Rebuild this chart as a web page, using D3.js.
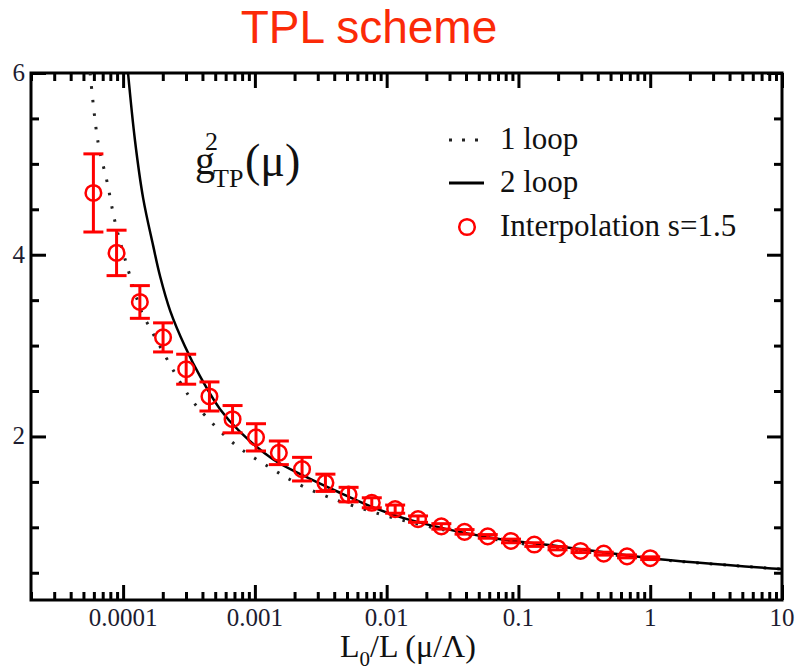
<!DOCTYPE html>
<html>
<head>
<meta charset="utf-8">
<script src="https://cdn.jsdelivr.net/npm/d3@7"></script>
<style>
  body { margin: 0; background: white; }
  text { font-family: "Liberation Serif", "Times New Roman", serif; }
</style>
</head>
<body>
<div id="chart"></div>
<script>
// interpolation points, s = 1.5
var pointX = [0.0000595, 0.0000892, 0.000134, 0.000201, 0.000301, 0.000452, 0.000677, 0.00102,
              0.00152, 0.00228, 0.00343, 0.00514, 0.00771, 0.0116, 0.0173, 0.026,
              0.039, 0.0585, 0.0878, 0.132, 0.198, 0.296, 0.444, 0.667, 1.0];
var pointY = [4.68, 4.02, 3.48, 3.09, 2.74, 2.44, 2.19, 1.99,
              1.82, 1.64, 1.49, 1.36, 1.27, 1.20, 1.09, 1.01,
              0.95, 0.90, 0.85, 0.81, 0.77, 0.74, 0.71, 0.68, 0.66];
var pointErr = [0.43, 0.25, 0.18, 0.16, 0.165, 0.16, 0.15, 0.15,
                0.13, 0.13, 0.095, 0.08, 0.055, 0.045, 0.035, 0.03,
                0.025, 0.02, 0.02, 0.02, 0.018, 0.018, 0.016, 0.016, 0.015];

// 1 loop curve
var loop1X = [0.0000562, 0.0000645, 0.0000756, 0.0000869, 0.0001035, 0.000139, 0.000155, 0.000311,
              0.000419, 0.000708, 0.00126, 0.00232, 0.00576, 0.02, 0.1, 1, 10];
var loop1Y = [6.0, 5.24, 4.80, 4.36, 3.95, 3.36, 3.23, 2.46,
              2.23, 1.91, 1.67, 1.45, 1.23, 1.014, 0.826, 0.654, 0.54];

// 2 loop curve
var loop2X = [0.000109, 0.000123, 0.000142, 0.000169, 0.000191, 0.000228, 0.000295, 0.000384,
              0.000544, 0.000772, 0.00137, 0.00249, 0.00443, 0.00788, 0.0143, 0.0585, 0.207, 1, 10];
var loop2Y = [6.0, 5.26, 4.62, 4.10, 3.76, 3.38, 2.99, 2.66,
              2.30, 2.05, 1.75, 1.55, 1.38, 1.22, 1.09, 0.89, 0.79, 0.66, 0.54];

var xMajor = [0.0001, 0.001, 0.01, 0.1, 1, 10];
var xTickLabels = ["0.0001", "0.001", "0.01", "0.1", "1", "10"];
var yMajor = [2, 4, 6];
var yTickLabels = ["2", "4", "6"];
var yMinor = [0.5, 1, 1.5, 2.5, 3, 3.5, 4.5, 5, 5.5];

var xMinor = [];
[-5, -4, -3, -2, -1, 0].forEach(function (p) {
  for (var m = 2; m <= 9; m++) {
    var v = m * Math.pow(10, p);
    if (v >= 2e-5 && v < 10) xMinor.push(v);
  }
});

var plotL = 31, plotR = 782, plotT = 73, plotB = 600;

var svg = d3.select("#chart").append("svg")
  .attr("width", 799)
  .attr("height", 670);

var x = d3.scaleLog().domain([2e-5, 10]).range([plotL, plotR]);
var y = d3.scaleLinear().domain([0.2, 6]).range([plotB, plotT]);

svg.append("defs").append("clipPath").attr("id", "plot")
  .append("rect")
  .attr("x", plotL).attr("y", plotT)
  .attr("width", plotR - plotL).attr("height", plotB - plotT);

// title
svg.append("text")
  .attr("x", 369).attr("y", 43)
  .attr("text-anchor", "middle")
  .style("font-family", "'Liberation Sans', Arial, sans-serif")
  .style("font-size", "46px")
  .style("fill", "#fb2a08")
  .text("TPL scheme");

// ticks (inward, on all four sides)
function tickAxis(axis, values, size, tx, ty) {
  var g = svg.append("g")
    .attr("transform", "translate(" + tx + "," + ty + ")")
    .call(axis.tickValues(values).tickSize(-size).tickFormat(""));
  g.select(".domain").remove();
  g.selectAll(".tick line").style("stroke", "black").style("stroke-width", 3);
  return g;
}
tickAxis(d3.axisBottom(x), xMajor, 15, 0, plotB);
tickAxis(d3.axisBottom(x), xMinor, 8, 0, plotB);
tickAxis(d3.axisTop(x), xMajor, 15, 0, plotT);
tickAxis(d3.axisTop(x), xMinor, 8, 0, plotT);
tickAxis(d3.axisLeft(y), yMajor, 15, plotL, 0);
tickAxis(d3.axisLeft(y), yMinor, 8, plotL, 0);
tickAxis(d3.axisRight(y), yMajor, 15, plotR, 0);
tickAxis(d3.axisRight(y), yMinor, 8, plotR, 0);

svg.selectAll(".xlab")
  .data(xMajor)
  .enter()
  .append("text")
  .attr("class", "xlab")
  .attr("x", function (d) { return x(d); })
  .attr("y", 626)
  .attr("text-anchor", "middle")
  .style("font-size", "25px")
  .style("fill", "#1c1c30")
  .text(function (d, i) { return xTickLabels[i]; });

svg.selectAll(".ylab")
  .data(yMajor)
  .enter()
  .append("text")
  .attr("class", "ylab")
  .attr("x", 25)
  .attr("y", function (d) { return y(d) + 8; })
  .attr("text-anchor", "end")
  .style("font-size", "25px")
  .style("fill", "#1c1c30")
  .text(function (d, i) { return yTickLabels[i]; });

// frame
svg.append("rect")
  .attr("x", plotL).attr("y", plotT)
  .attr("width", plotR - plotL).attr("height", plotB - plotT)
  .style("fill", "none")
  .style("stroke", "black")
  .style("stroke-width", 3);

// axis title
var xt = svg.append("text")
  .attr("x", 408).attr("y", 657)
  .attr("text-anchor", "middle")
  .style("font-size", "32px")
  .style("fill", "#111");
xt.append("tspan").text("L");
xt.append("tspan").attr("dy", 9).style("font-size", "21px").text("0");
xt.append("tspan").attr("dy", -9).text("/L (\u03bc/\u039b)");

var line = d3.line()
  .x(function (d) { return x(d[0]); })
  .y(function (d) { return y(d[1]); })
  .curve(d3.curveCatmullRom);

var curves = svg.append("g").attr("clip-path", "url(#plot)");

curves.append("path")
  .attr("d", line(d3.zip(loop1X, loop1Y)))
  .style("fill", "none")
  .style("stroke", "#222")
  .style("stroke-width", 3)
  .style("stroke-dasharray", "2.5,11");

curves.append("path")
  .attr("d", line(d3.zip(loop2X, loop2Y)))
  .style("fill", "none")
  .style("stroke", "black")
  .style("stroke-width", 2.5);

// error bars + circles
var pts = d3.zip(pointX, pointY, pointErr);

var bars = svg.selectAll(".err")
  .data(pts)
  .enter()
  .append("g")
  .attr("class", "err")
  .style("stroke", "red")
  .style("stroke-width", 3);

bars.append("line")
  .attr("x1", function (d) { return x(d[0]); })
  .attr("x2", function (d) { return x(d[0]); })
  .attr("y1", function (d) { return y(d[1] + d[2]); })
  .attr("y2", function (d) { return y(d[1] - d[2]); });
bars.append("line")
  .attr("x1", function (d) { return x(d[0]) - 10; })
  .attr("x2", function (d) { return x(d[0]) + 10; })
  .attr("y1", function (d) { return y(d[1] + d[2]); })
  .attr("y2", function (d) { return y(d[1] + d[2]); });
bars.append("line")
  .attr("x1", function (d) { return x(d[0]) - 10; })
  .attr("x2", function (d) { return x(d[0]) + 10; })
  .attr("y1", function (d) { return y(d[1] - d[2]); })
  .attr("y2", function (d) { return y(d[1] - d[2]); });

svg.selectAll(".pt")
  .data(pts)
  .enter()
  .append("circle")
  .attr("class", "pt")
  .attr("cx", function (d) { return x(d[0]); })
  .attr("cy", function (d) { return y(d[1]); })
  .attr("r", 7.8)
  .style("fill", "none")
  .style("stroke", "red")
  .style("stroke-width", 2.5);

// curve label g^2_TP(mu)
var gl = svg.append("text")
  .style("font-size", "40px")
  .style("fill", "#111");
gl.append("tspan").attr("x", 195).attr("y", 174).text("g");
gl.append("tspan").attr("x", 205).attr("y", 150).style("font-size", "26px").text("2");
gl.append("tspan").attr("x", 213).attr("y", 187).style("font-size", "26px").text("TP");
gl.append("tspan").attr("x", 245).attr("y", 176).style("font-size", "46px").text("(\u03bc)");

// legend
var legendY = [140, 183, 227];
var legendText = ["1 loop", "2 loop", "Interpolation s=1.5"];

svg.append("line")
  .attr("x1", 449).attr("x2", 484)
  .attr("y1", legendY[0]).attr("y2", legendY[0])
  .style("stroke", "#222").style("stroke-width", 3)
  .style("stroke-dasharray", "3,10");
svg.append("line")
  .attr("x1", 449).attr("x2", 484)
  .attr("y1", legendY[1]).attr("y2", legendY[1])
  .style("stroke", "black").style("stroke-width", 3);
svg.append("circle")
  .attr("cx", 467).attr("cy", legendY[2]).attr("r", 7.8)
  .style("fill", "none").style("stroke", "red").style("stroke-width", 2.5);

svg.selectAll(".leg")
  .data(legendText)
  .enter()
  .append("text")
  .attr("class", "leg")
  .attr("x", 500)
  .attr("y", function (d, i) { return legendY[i] + 9; })
  .style("font-size", "31px")
  .style("fill", "#111")
  .text(function (d) { return d; });
</script>
</body>
</html>
